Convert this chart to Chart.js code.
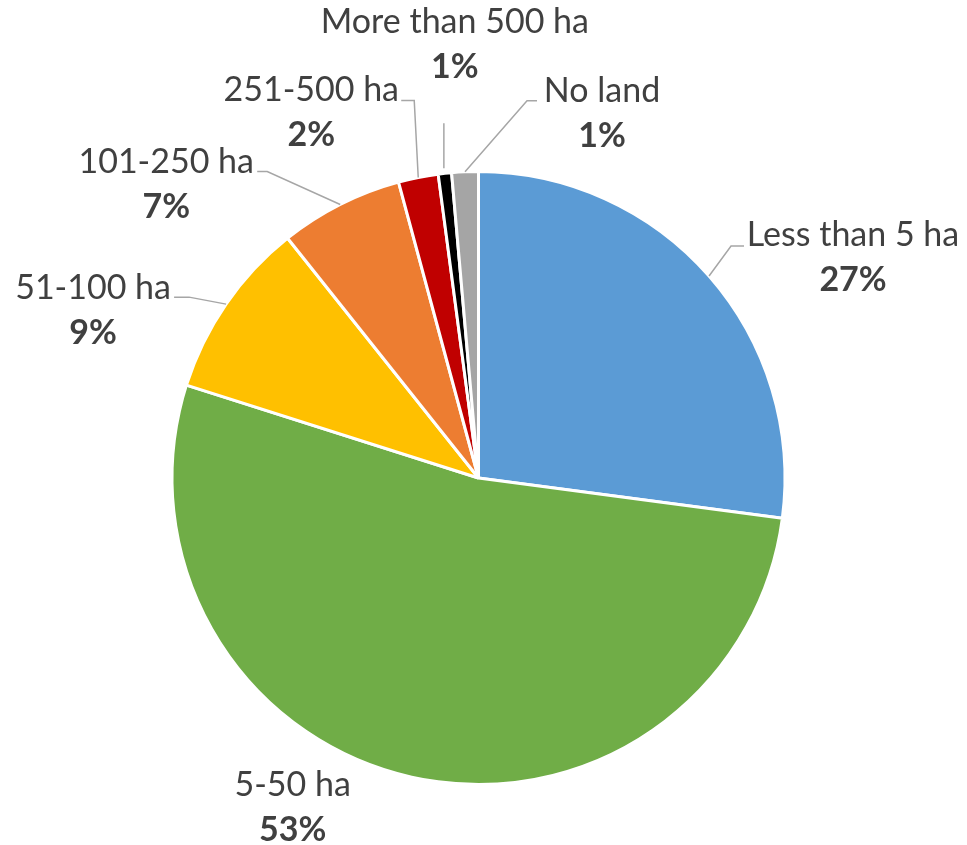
<!DOCTYPE html>
<html>
<head>
<meta charset="utf-8">
<script src="https://cdn.jsdelivr.net/npm/chart.js@4"></script>
<style>
  html, body { margin: 0; padding: 0; background: #ffffff; }
  #wrap { width: 967px; height: 845px; position: relative; }
</style>
</head>
<body>
<div id="wrap"><canvas id="pie"></canvas></div>
<script>
// Farm size categories and their share of holdings (%)
const categories = ['Less than 5 ha', '5-50 ha', '51-100 ha', '101-250 ha', '251-500 ha', 'More than 500 ha', 'No land'];
const shares = [27.1, 52.8, 9.4, 6.5, 2.1, 0.7, 1.4];
const sliceColors = ['#5B9BD5', '#70AD47', '#FFC000', '#ED7D31', '#C00000', '#000000', '#A5A5A5'];

// Label placement, relative to the point on the rim at each slice's middle angle:
// text = centre x / baseline of the category line; leader = polyline points (null = no leader)
const labelLayout = [
  { text: [144, -30],  leader: [[0, 0], [22, -30], [35, -30]] },
  { text: [-119, 19],  leader: null },
  { text: [-133, -5],  leader: [[0, 0], [-37, -7], [-52, -7]] },
  { text: [-174, -31], leader: [[0, 0], [-73, -33], [-83, -33]] },
  { text: [-107, -76], leader: [[0, 0], [-4, -77], [-17, -77]] },
  { text: [10, -140],  leader: [[-1, -5], [-1, -50]] },
  { text: [137, -70],  leader: [[0, 0], [62, -71], [72, -71]] }
];

const FONT_FAMILY = 'Lato, "Liberation Sans", sans-serif';
const FONT_SIZE = 34;
const LINE_GAP = 45;

const outsideLabels = {
  id: 'outsideLabels',
  afterDatasetsDraw(chart) {
    const ctx = chart.ctx;
    const meta = chart.getDatasetMeta(0);
    const values = chart.data.datasets[0].data;
    meta.data.forEach((arc, i) => {
      const p = arc.getProps(['x', 'y', 'startAngle', 'endAngle', 'outerRadius'], true);
      const mid = (p.startAngle + p.endAngle) / 2;
      const ax = p.x + Math.cos(mid) * p.outerRadius;
      const ay = p.y + Math.sin(mid) * p.outerRadius;
      const lay = labelLayout[i];
      ctx.save();
      if (lay.leader) {
        ctx.strokeStyle = '#A6A6A6';
        ctx.lineWidth = 1.5;
        ctx.beginPath();
        lay.leader.forEach((pt, k) => {
          const px = ax + pt[0], py = ay + pt[1];
          if (k === 0) ctx.moveTo(px, py); else ctx.lineTo(px, py);
        });
        ctx.stroke();
      }
      const tx = ax + lay.text[0];
      const ty = ay + lay.text[1];
      ctx.fillStyle = '#404040';
      ctx.textAlign = 'center';
      ctx.textBaseline = 'alphabetic';
      ctx.font = `400 ${FONT_SIZE}px ${FONT_FAMILY}`;
      ctx.fillText(chart.data.labels[i], tx, ty);
      ctx.font = `700 ${FONT_SIZE}px ${FONT_FAMILY}`;
      ctx.fillText(Math.round(values[i]) + '%', tx, ty + LINE_GAP);
      ctx.restore();
    });
  }
};

new Chart(document.getElementById('pie'), {
  type: 'pie',
  data: {
    labels: categories,
    datasets: [{
      data: shares,
      backgroundColor: sliceColors,
      borderColor: '#ffffff',
      borderWidth: 3
    }]
  },
  options: {
    responsive: true,
    maintainAspectRatio: false,
    animation: false,
    layout: { padding: { left: 170.5, right: 180.5, top: 170, bottom: 59 } },
    plugins: {
      legend: { display: false },
      tooltip: { enabled: false }
    }
  },
  plugins: [outsideLabels]
});
</script>
</body>
</html>
